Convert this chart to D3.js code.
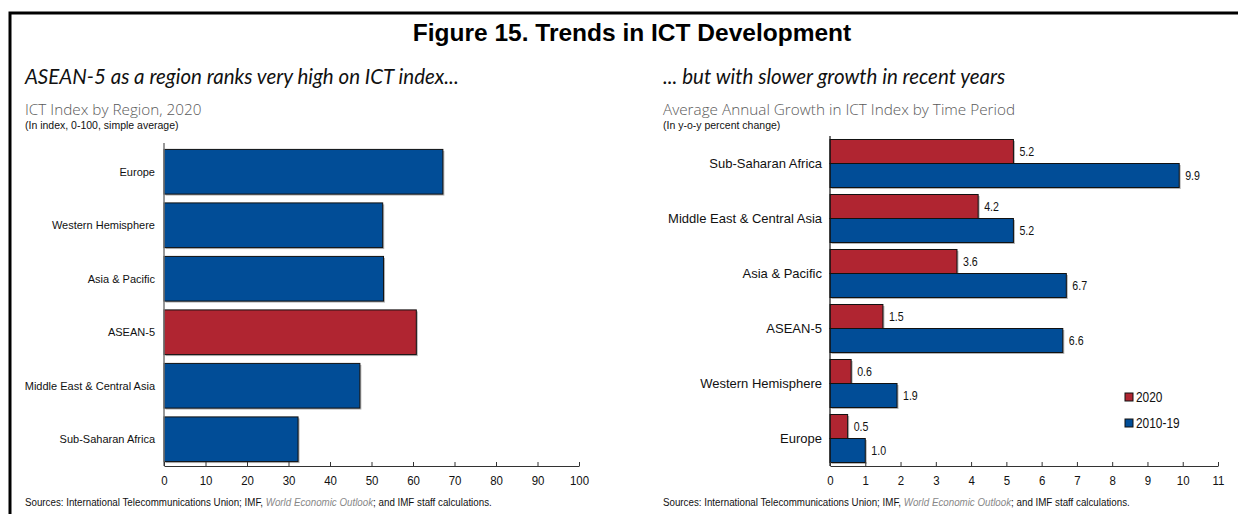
<!DOCTYPE html>
<html>
<head>
<meta charset="utf-8">
<script src="https://cdn.jsdelivr.net/npm/d3@7"></script>
<style>
  html, body { margin: 0; padding: 0; background: #fff; }
  svg { display: block; }
  .title { font-family: "Liberation Sans", Arial, sans-serif; font-weight: bold; font-size: 24.5px; fill: #000; }
  .lead { font-family: Lato, "Open Sans", sans-serif; font-style: italic; font-size: 20.5px; fill: #111; }
  .ctitle { font-family: "Open Sans", sans-serif; font-weight: 300; font-size: 15.3px; fill: #5a5a5a; }
  .csub { font-family: "Liberation Sans", Arial, sans-serif; font-size: 10.5px; fill: #111; }
  .src { font-family: "Liberation Sans", Arial, sans-serif; font-size: 11.5px; fill: #111; }
  .src .woe { font-style: italic; fill: #888; }
  .cat { font-family: "Liberation Sans", Arial, sans-serif; font-size: 11px; fill: #111; }
  .cat.r { font-size: 13px; }
  .val { font-family: "Liberation Sans", Arial, sans-serif; font-size: 12.5px; fill: #111; }
  .axis text { font-family: "Liberation Sans", Arial, sans-serif; font-size: 13.5px; fill: #111; }
  .axis path, .axis line { stroke: #333; }
  .leg { font-family: "Liberation Sans", Arial, sans-serif; font-size: 14px; fill: #111; }
</style>
</head>
<body>
<svg id="chart" width="1238" height="514"></svg>
<script>
// Left panel: ICT index by region, 2020
const regionsLeft = ["Europe", "Western Hemisphere", "Asia & Pacific", "ASEAN-5", "Middle East & Central Asia", "Sub-Saharan Africa"];
const ictIndex = [67.2, 52.7, 52.9, 60.8, 47.2, 32.3];
const highlight = "ASEAN-5";
const leftTicks = [0, 10, 20, 30, 40, 50, 60, 70, 80, 90, 100];

// Right panel: average annual growth by period
const regionsRight = ["Sub-Saharan Africa", "Middle East & Central Asia", "Asia & Pacific", "ASEAN-5", "Western Hemisphere", "Europe"];
const periods = ["2020", "2010-19"];
const growth2020 = [5.2, 4.2, 3.6, 1.5, 0.6, 0.5];
const growth2010s = [9.9, 5.2, 6.7, 6.6, 1.9, 1.0];
const rightTicks = [0, 1, 2, 3, 4, 5, 6, 7, 8, 9, 10, 11];

const BLUE = "#014d97";
const RED = "#b02531";
const NARROW = 0.85; // fake a condensed face

const svg = d3.select("#chart");

// frame
svg.append("path")
  .attr("d", "M10,514 V13 H1238")
  .attr("fill", "none")
  .attr("stroke", "#000")
  .attr("stroke-width", 3);

svg.append("text").attr("class", "title")
  .attr("x", 632).attr("y", 41).attr("text-anchor", "middle")
  .text("Figure 15. Trends in ICT Development");

svg.append("text").attr("class", "lead").attr("x", 25).attr("y", 84)
  .text("ASEAN-5 as a region ranks very high on ICT index...");
svg.append("text").attr("class", "lead").attr("x", 663).attr("y", 84)
  .text("... but with slower growth in recent years");

svg.append("text").attr("class", "ctitle").attr("x", 25).attr("y", 115)
  .text("ICT Index by Region, 2020");
svg.append("text").attr("class", "csub").attr("x", 25).attr("y", 129)
  .text("(In index, 0-100, simple average)");
svg.append("text").attr("class", "ctitle").attr("x", 663).attr("y", 115)
  .text("Average Annual Growth in ICT Index by Time Period");
svg.append("text").attr("class", "csub").attr("x", 663).attr("y", 129)
  .text("(In y-o-y percent change)");

function sources(x) {
  const t = svg.append("text").attr("class", "src")
    .attr("transform", `translate(${x},506) scale(${NARROW},1)`);
  t.append("tspan").text("Sources: International Telecommunications Union; IMF, ");
  t.append("tspan").attr("class", "woe").text("World Economic Outlook");
  t.append("tspan").text("; and IMF staff calculations.");
}
sources(25);
sources(663);

function barWithShadow(g, x, y, w, h, fill) {
  g.append("rect").attr("x", x + 1.5).attr("y", y + 1.5).attr("width", w).attr("height", h)
    .attr("fill", "#b5b5b5");
  g.append("rect").attr("x", x).attr("y", y).attr("width", w).attr("height", h)
    .attr("fill", fill).attr("stroke", "#111").attr("stroke-width", 1);
}

// ---- left chart
const xL = d3.scaleLinear().domain([0, 100]).range([164, 579]);
const yL = d3.scaleBand().domain(regionsLeft).range([145, 466]).paddingInner(0.165).paddingOuter(0.0825);
const gL = svg.append("g");

regionsLeft.forEach((r, i) => {
  barWithShadow(gL, xL(0), yL(r), xL(ictIndex[i]) - xL(0), yL.bandwidth(), r === highlight ? RED : BLUE);
});

gL.selectAll(".cat").data(regionsLeft).join("text")
  .attr("class", "cat")
  .attr("x", 155)
  .attr("y", d => yL(d) + yL.bandwidth() / 2)
  .attr("dy", "0.35em")
  .attr("text-anchor", "end")
  .text(d => d);

gL.append("line").attr("x1", xL(0)).attr("x2", xL(0)).attr("y1", 143).attr("y2", 466)
  .attr("stroke", "#777").attr("stroke-width", 1.5);

gL.append("g").attr("class", "axis")
  .attr("transform", "translate(0,466)")
  .call(d3.axisBottom(xL).tickValues(leftTicks).tickSizeInner(-4).tickSizeOuter(0).tickPadding(9))
  .selectAll("text").attr("transform", `scale(${NARROW},1)`);

// ---- right chart
const xR = d3.scaleLinear().domain([0, 11]).range([830, 1218]);
const yR = d3.scaleBand().domain(regionsRight).range([136, 466]).paddingInner(0.127).paddingOuter(0.0635);
const yInner = d3.scaleBand().domain(periods).range([0, yR.bandwidth()]);
const gR = svg.append("g");
const color = d3.scaleOrdinal().domain(periods).range([RED, BLUE]);

regionsRight.forEach((r, i) => {
  const vals = [growth2020[i], growth2010s[i]];
  periods.forEach((p, j) => {
    const y = yR(r) + yInner(p);
    barWithShadow(gR, xR(0), y, xR(vals[j]) - xR(0), yInner.bandwidth(), color(p));
    gR.append("text").attr("class", "val")
      .attr("transform", `translate(${xR(vals[j]) + 6},${y + yInner.bandwidth() / 2}) scale(${NARROW},1)`)
      .attr("dy", "0.35em")
      .text(d3.format(".1f")(vals[j]));
  });
});

gR.selectAll(".cat").data(regionsRight).join("text")
  .attr("class", "cat r")
  .attr("x", 822)
  .attr("y", d => yR(d) + yR.bandwidth() / 2)
  .attr("dy", "0.35em")
  .attr("text-anchor", "end")
  .text(d => d);

gR.append("line").attr("x1", xR(0)).attr("x2", xR(0)).attr("y1", 136).attr("y2", 466)
  .attr("stroke", "#111").attr("stroke-width", 1.2);

gR.append("g").attr("class", "axis")
  .attr("transform", "translate(0,466)")
  .call(d3.axisBottom(xR).tickValues(rightTicks).tickSizeInner(-4).tickSizeOuter(0).tickPadding(9))
  .selectAll("text").attr("transform", `scale(${NARROW},1)`);

// legend
const leg = svg.append("g").attr("transform", "translate(1125,393)");
periods.forEach((p, i) => {
  leg.append("rect").attr("x", 0).attr("y", i * 26).attr("width", 8).attr("height", 8)
    .attr("fill", color(p)).attr("stroke", "#111");
  leg.append("text").attr("class", "leg")
    .attr("transform", `translate(11,${i * 26 + 4}) scale(${NARROW},1)`)
    .attr("dy", "0.35em").text(p);
});
</script>
</body>
</html>
